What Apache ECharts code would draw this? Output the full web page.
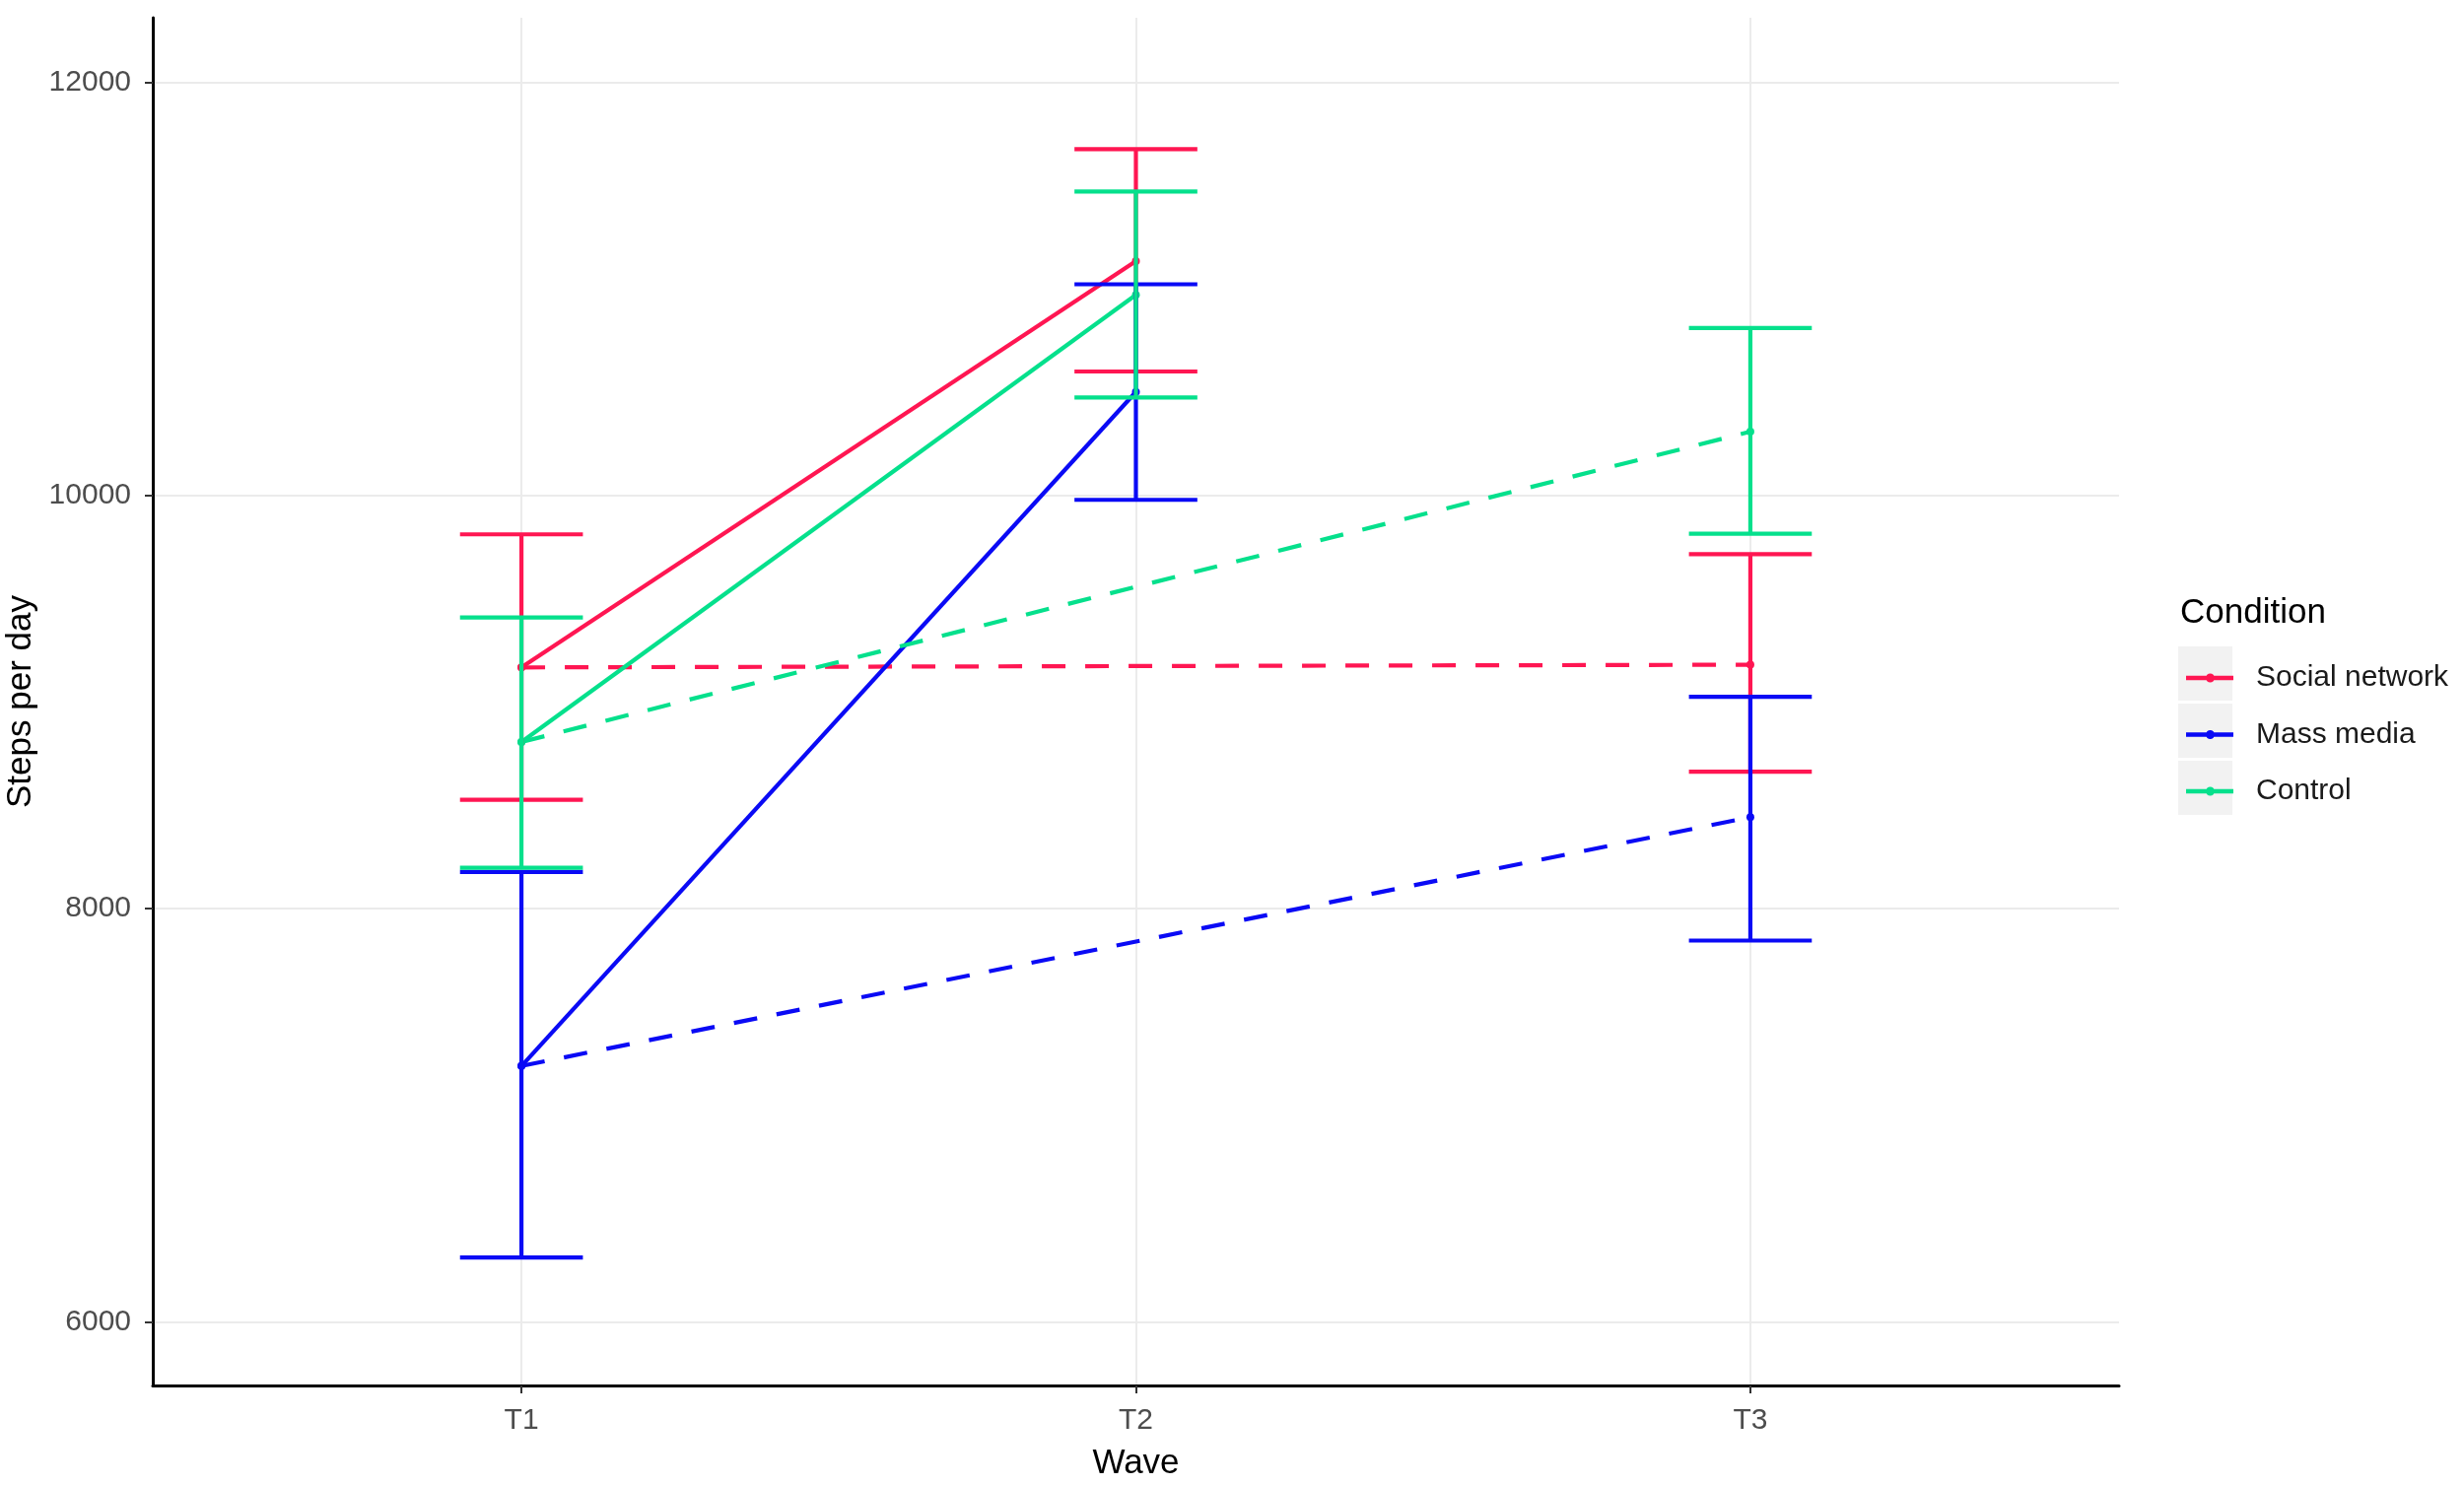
<!DOCTYPE html>
<html>
<head>
<meta charset="utf-8">
<script src="https://cdn.jsdelivr.net/npm/echarts@6/dist/echarts.min.js"></script>
<style>
html,body{margin:0;padding:0;background:#fff;}
#chart{width:2500px;height:1507px;}
</style>
</head>
<body>
<div id="chart"></div>
<script>
// ---- data ----
const categories = ['T1', 'T2', 'T3'];
const xPositions = [0, 1, 2];
const yTicks = [6000, 8000, 10000, 12000];
const conditions = ['Social network', 'Mass media', 'Control'];

const snMean = [9168, 11134, 9181];
const snLow  = [8527, 10600, 8663];
const snHigh = [9812, 11676, 9716];

const mmMean = [7239, 10501, 8443];
const mmLow  = [6312, 9979, 7846];
const mmHigh = [8178, 11022, 9026];

const ctMean = [8807, 10971, 10309];
const ctLow  = [8198, 10474, 9815];
const ctHigh = [9410, 11471, 10810];

// ---- styling ----
const colors = ['#FF1652', '#0A0AF5', '#05E08C'];
const FONT = "'Liberation Sans', Arial, sans-serif";
const LW = 4.2;
const CAP_HALF = 0.1;

const groups = [
  {name: conditions[0], mean: snMean, low: snLow, high: snHigh, color: colors[0]},
  {name: conditions[1], mean: mmMean, low: mmLow, high: mmHigh, color: colors[1]},
  {name: conditions[2], mean: ctMean, low: ctLow, high: ctHigh, color: colors[2]}
];

const series = [];
groups.forEach(g => {
  series.push({
    name: g.name, type: 'line',
    data: [[xPositions[0], g.mean[0]], [xPositions[1], g.mean[1]]],
    lineStyle: {color: g.color, width: LW, type: 'solid'},
    itemStyle: {color: g.color},
    symbol: 'circle', symbolSize: 8, z: 3
  });
  series.push({
    name: g.name, type: 'line',
    data: [[xPositions[0], g.mean[0]], [xPositions[2], g.mean[2]]],
    lineStyle: {color: g.color, width: LW, type: [24, 20]},
    itemStyle: {color: g.color},
    symbol: 'circle', symbolSize: 8, z: 3
  });
  series.push({
    name: g.name, type: 'custom',
    data: xPositions.map((x, i) => [x, g.low[i], g.high[i]]),
    z: 4,
    renderItem: function (params, api) {
      const x = api.value(0);
      const lo = api.coord([x, api.value(1)]);
      const hi = api.coord([x, api.value(2)]);
      const half = api.size([CAP_HALF, 0])[0];
      const st = {stroke: g.color, lineWidth: LW, fill: null};
      return {
        type: 'group',
        children: [
          {type: 'line', shape: {x1: lo[0], y1: lo[1], x2: hi[0], y2: hi[1]}, style: st},
          {type: 'line', shape: {x1: hi[0] - half, y1: hi[1], x2: hi[0] + half, y2: hi[1]}, style: st},
          {type: 'line', shape: {x1: lo[0] - half, y1: lo[1], x2: lo[0] + half, y2: lo[1]}, style: st}
        ]
      };
    }
  });
});

const legendIcon = 'path://M0,2.75 L48,2.75 L48,7.25 L0,7.25 Z M20,5 A4.5,4.5 0 1 1 29,5 A4.5,4.5 0 1 1 20,5 Z';

const option = {
  animation: false,
  backgroundColor: '#ffffff',
  textStyle: {fontFamily: FONT},
  title: {
    text: 'Condition', left: 2207, top: 600,
    textStyle: {fontFamily: FONT, fontSize: 35, fontWeight: 'normal', color: '#000'}
  },
  legend: {
    orient: 'vertical', left: 2213, top: 668,
    itemWidth: 48, itemHeight: 9, itemGap: 27.5,
    data: conditions.map((n, i) => ({name: n, icon: legendIcon, itemStyle: {color: colors[i]}})),
    textStyle: {fontFamily: FONT, fontSize: 30, lineHeight: 30, color: '#1a1a1a', padding: [0, 0, 0, 18]},
    selectedMode: false
  },
  graphic: [0, 1, 2].map(i => ({
    type: 'rect', z: -1,
    shape: {x: 2210, y: 656 + i * 58, width: 55, height: 55},
    style: {fill: '#F2F2F2'}
  })),
  grid: {left: 155, right: 350, top: 18, bottom: 101, containLabel: false, outerBoundsMode: 'none'},
  xAxis: {
    type: 'value', min: -0.6, max: 2.6,
    name: 'Wave', nameLocation: 'middle', nameGap: 62,
    nameTextStyle: {fontFamily: FONT, fontSize: 35, color: '#000'},
    axisLine: {show: true, onZero: false, lineStyle: {color: '#000', width: 3}},
    axisTick: {show: true, customValues: xPositions, length: 8, lineStyle: {color: '#333', width: 2}},
    axisLabel: {customValues: xPositions, formatter: v => categories[Math.round(v)], fontFamily: FONT, fontSize: 30, color: '#4D4D4D', margin: 21},
    splitLine: {show: true, lineStyle: {color: '#EBEBEB', width: 2}}
  },
  yAxis: {
    type: 'value', min: 5693, max: 12312,
    name: 'Steps per day', nameLocation: 'middle', nameGap: 115,
    nameTextStyle: {fontFamily: FONT, fontSize: 35, color: '#000'},
    axisLine: {show: true, onZero: false, lineStyle: {color: '#000', width: 3}},
    axisTick: {show: true, customValues: yTicks, length: 8, lineStyle: {color: '#333', width: 2}},
    axisLabel: {customValues: yTicks, formatter: v => String(v), fontFamily: FONT, fontSize: 30, color: '#4D4D4D', margin: 22},
    splitLine: {show: true, lineStyle: {color: '#EBEBEB', width: 2}}
  },
  series: series
};

const chart = echarts.init(document.getElementById('chart'), null, {renderer: 'canvas'});
chart.setOption(option);
</script>
</body>
</html>
